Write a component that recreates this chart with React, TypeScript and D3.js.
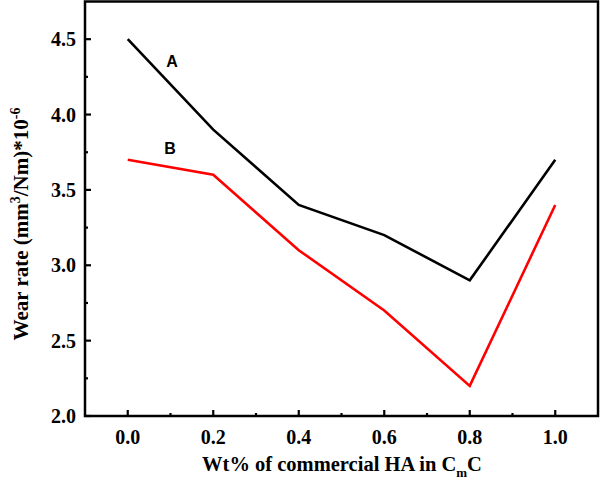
import React from "react";
import * as d3 from "d3";

const xValues = [0.0, 0.2, 0.4, 0.6, 0.8, 1.0];
const seriesA = [4.5, 3.9, 3.4, 3.2, 2.9, 3.7];
const seriesB = [3.7, 3.6, 3.1, 2.7, 2.2, 3.4];
const xTicks = [0.0, 0.2, 0.4, 0.6, 0.8, 1.0];
const xMinor = [0.1, 0.3, 0.5, 0.7, 0.9];
const yTicks = [2.0, 2.5, 3.0, 3.5, 4.0, 4.5];
const yMinor = [2.25, 2.75, 3.25, 3.75, 4.25];

export default function App() {
  const W = 600, H = 483;
  const L = 85, R = 598, T = 1.5, B = 416;
  const x = d3.scaleLinear().domain([-0.1, 1.1]).range([L, R]);
  const y = d3.scaleLinear().domain([2.0, 4.75]).range([B, T]);
  const line = d3.line<number>().x((_, i) => x(xValues[i])).y((d) => y(d));
  const serif = "'Liberation Serif', 'Times New Roman', serif";
  const sans = "'Liberation Sans', Arial, sans-serif";
  return (
    <svg width={W} height={H} style={{ position: "absolute", left: 0, top: 0 }}>
      <rect x={0} y={0} width={W} height={H} fill="#fff" />
      <path d={line(seriesA) || ""} fill="none" stroke="#000" strokeWidth={2.6} />
      <path d={line(seriesB) || ""} fill="none" stroke="#ff0000" strokeWidth={2.6} />
      <rect x={L} y={T} width={R - L} height={B - T} fill="none" stroke="#000" strokeWidth={2.5} />
      {xTicks.map((t) => (
        <g key={"x" + t}>
          <line x1={x(t)} x2={x(t)} y1={B} y2={B - 6} stroke="#000" strokeWidth={2.2} />
          <text x={x(t)} y={444} textAnchor="middle" fontFamily={serif} fontWeight="bold" fontSize={20}>
            {t.toFixed(1)}
          </text>
        </g>
      ))}
      {xMinor.map((t) => (
        <line key={"xm" + t} x1={x(t)} x2={x(t)} y1={B} y2={B - 3} stroke="#000" strokeWidth={2.2} />
      ))}
      {yTicks.map((t) => (
        <g key={"y" + t}>
          <line x1={L} x2={L + 6} y1={y(t)} y2={y(t)} stroke="#000" strokeWidth={2.2} />
          <text x={76} y={y(t) + 7} textAnchor="end" fontFamily={serif} fontWeight="bold" fontSize={20}>
            {t.toFixed(1)}
          </text>
        </g>
      ))}
      {yMinor.map((t) => (
        <line key={"ym" + t} x1={L} x2={L + 3} y1={y(t)} y2={y(t)} stroke="#000" strokeWidth={2.2} />
      ))}
      <text x={172} y={67} textAnchor="middle" fontFamily={sans} fontWeight="bold" fontSize={16}>A</text>
      <text x={170} y={154} textAnchor="middle" fontFamily={sans} fontWeight="bold" fontSize={16}>B</text>
      <text x={342} y={471} textAnchor="middle" fontFamily={serif} fontWeight="bold" fontSize={20.5}>
        Wt% of commercial HA in C<tspan dy={6} fontSize={13}>m</tspan><tspan dy={-6}>C</tspan>
      </text>
      <text transform={`translate(28, 224) rotate(-90)`} textAnchor="middle" fontFamily={serif} fontWeight="bold" fontSize={21}>
        Wear rate (mm<tspan dy={-8} fontSize={14}>3</tspan><tspan dy={8}>/Nm)*10</tspan><tspan dy={-8} fontSize={14}>-6</tspan>
      </text>
    </svg>
  );
}
